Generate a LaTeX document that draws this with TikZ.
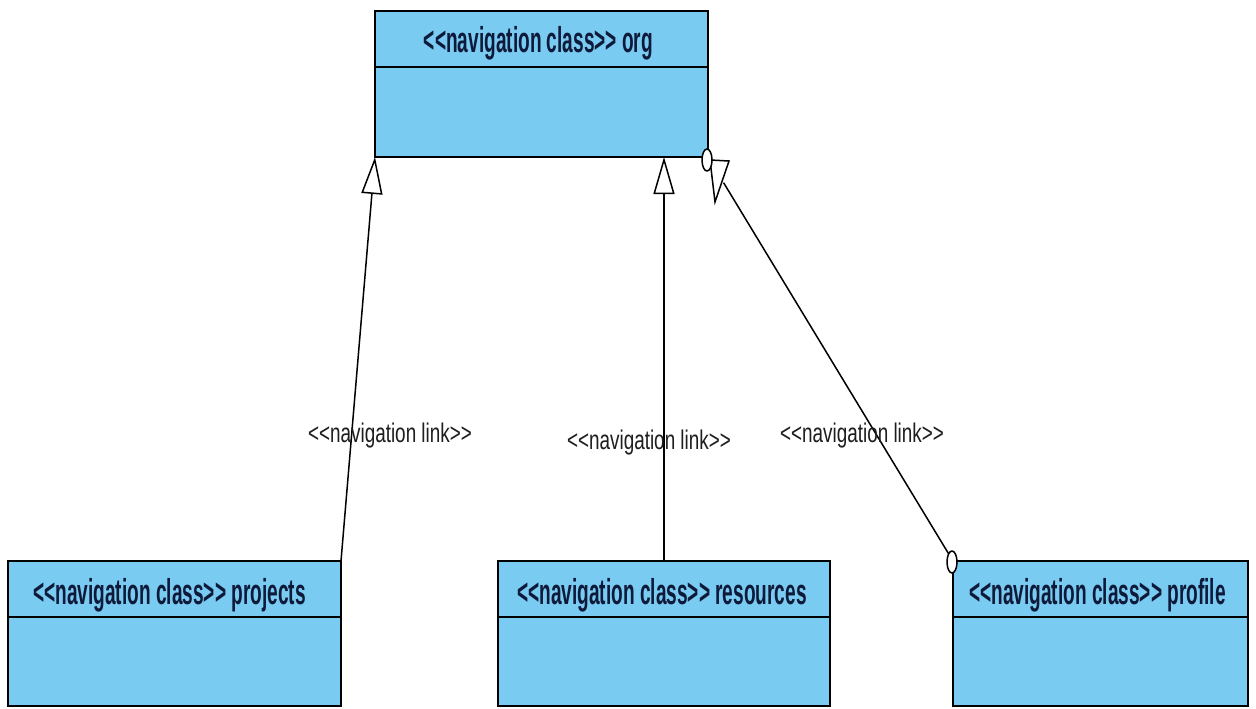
\documentclass[tikz,border=0pt]{standalone}
\usepackage{fontspec}
\usetikzlibrary{arrows.meta,calc}
\newfontfamily\hdrfont[FakeStretch=0.53]{Liberation Sans Bold}
\newfontfamily\lblfont[FakeStretch=0.70]{Liberation Sans}
\definecolor{boxblue}{RGB}{122,203,242}
\definecolor{hdrtext}{RGB}{14,26,58}
\definecolor{lbltext}{RGB}{30,30,30}
\tikzset{
  classbox/.style={draw=black, line width=2pt, fill=boxblue, outer sep=0pt,
    minimum width=333pt, minimum height=146pt, anchor=north west, inner sep=0pt},
  hdr/.style={text=hdrtext, font=\hdrfont\fontsize{36}{40}\selectfont, inner sep=0pt, anchor=base},
  divider/.style={line width=2pt, draw=black},
  conn/.style={line width=1.5pt, draw=black},
  gentip/.style={-{Triangle[fill=white, length=37pt, width=21pt, line width=1.5pt]}},
  lbl/.style={text=lbltext, font=\lblfont\fontsize{27}{30}\selectfont, inner sep=0pt},
  endcirc/.style={line width=1.5pt, draw=black, fill=white},
}
\begin{document}
\begin{tikzpicture}[x=1pt, y=-1pt]
\useasboundingbox[fill=white] (0,0) rectangle (1256,709);

% class boxes
\node[classbox] (org) at (375,11) {};
\node[classbox, minimum height=145pt] (projects) at (8,561) {};
\node[classbox, minimum height=145pt, minimum width=332pt] (resources) at (498,561) {};
\node[classbox, minimum height=145pt, minimum width=295pt] (profile) at (953,561) {};

% dividers
\draw[divider] (org.west |- 0,67) -- (org.east |- 0,67);
\draw[divider] (projects.west |- 0,617) -- (projects.east |- 0,617);
\draw[divider] (resources.west |- 0,617) -- (resources.east |- 0,617);
\draw[divider] (profile.west |- 0,617) -- (profile.east |- 0,617);

% headers
\node[hdr] (orgname) at ($(org.north)+(-3,42)$) {<{}<navigation class>{}> org};
\node[hdr] (projname) at ($(projects.north)+(-5,43)$) {<{}<navigation class>{}> projects};
\node[hdr] (resname) at ($(resources.north)+(-2,43)$) {<{}<navigation class>{}> resources};
\node[hdr] (profname) at ($(profile.north)+(-3,43)$) {<{}<navigation class>{}> profile};

% connectors
\draw[conn, gentip] (projects.north east) -- (org.south west);
\draw[conn, gentip] (resources.north) -- (resources.north |- org.south);
\draw[conn, shorten >=30pt] (profile.north west) -- (org.south east);
\draw[conn, fill=white, shift={(org.south east)}] (2,3) -- (21,4) -- (7,45) -- cycle;
\draw[endcirc] ($(org.south east)+(-1,3)$) ellipse [x radius=5pt, y radius=11pt];
\draw[endcirc] ($(profile.north west)+(-1,1)$) ellipse [x radius=5pt, y radius=11pt];

% labels
\node[lbl] (l1) at (390,436) {<{}<navigation link>{}>};
\node[lbl] (l2) at (649,443) {<{}<navigation link>{}>};
\node[lbl] (l3) at (862,436) {<{}<navigation link>{}>};
\end{tikzpicture}
\end{document}
